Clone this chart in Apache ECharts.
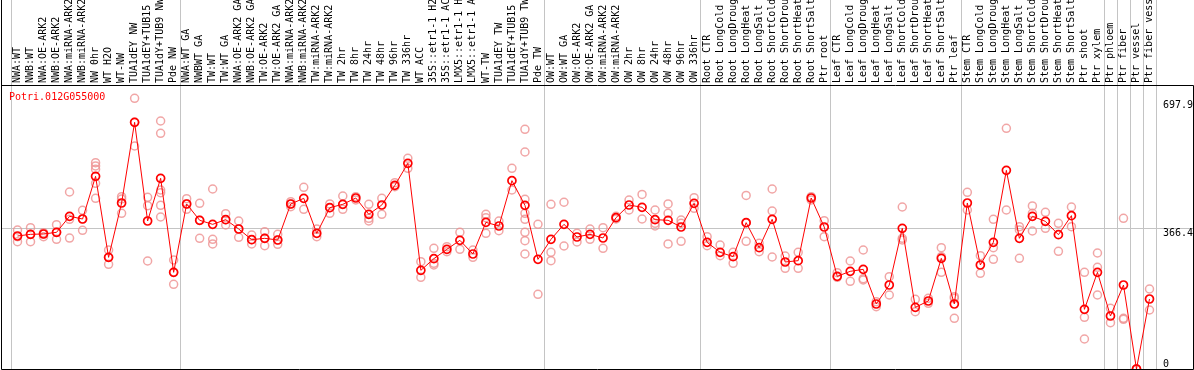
<!DOCTYPE html>
<html>
<head>
<meta charset="utf-8">
<script src="https://cdn.jsdelivr.net/npm/echarts@6/dist/echarts.min.js"></script>
<style>
html,body{margin:0;padding:0;background:#fff;}
#c{width:1194px;height:370px;}
</style>
</head>
<body>
<div id="c"></div>
<script>
const geneTitle = 'Potri.012G055000';

const categories = [
  'NWA:WT','NWB:WT','NWA:OE-ARK2','NWB:OE-ARK2','NWA:miRNA-ARK2','NWB:miRNA-ARK2','NW 0hr','WT H2O','WT-NW','TUA1dEY NW','TUA1dEY+TUB15 NW','TUA1dY+TUB9 NW','Pde NW',
  'NWA:WT GA','NWBWT GA','TW:WT','TW:WT GA','NWA:OE-ARK2 GA','NWB:OE-ARK2 GA','TW:OE-ARK2','TW:OE-ARK2 GA','NWA:miRNA-ARK2','NWB:miRNA-ARK2','TW:miRNA-ARK2','TW:miRNA-ARK2',
  'TW 2hr','TW 8hr','TW 24hr','TW 48hr','TW 96hr','TW 336hr','WT ACC','35S::etr1-1 H2O','35S::etr1-1 ACC','LMX5::etr1-1 H2O','LMX5::etr1-1 ACC','WT-TW','TUA1dEY TW','TUA1dEY+TUB15 TW','TUA1dY+TUB9 TW','Pde TW',
  'OW:WT','OW:WT GA','OW:OE-ARK2','OW:OE-ARK2 GA','OW:miRNA-ARK2','OW:miRNA-ARK2','OW 2hr','OW 8hr','OW 24hr','OW 48hr','OW 96hr','OW 336hr',
  'Root CTR','Root LongCold','Root LongDrought','Root LongHeat','Root LongSalt','Root ShortCold','Root ShortDrought','Root ShortHeat','Root ShortSalt','Ptr root',
  'Leaf CTR','Leaf LongCold','Leaf LongDrought','Leaf LongHeat','Leaf LongSalt','Leaf ShortCold','Leaf ShortDrought','Leaf ShortHeat','Leaf ShortSalt','Ptr leaf',
  'Stem CTR','Stem LongCold','Stem LongDrought','Stem LongHeat','Stem LongSalt','Stem ShortCold','Stem ShortDrought','Stem ShortHeat','Stem ShortSalt','Ptr shoot',
  'Ptr xylem','Ptr phloem','Ptr fiber','Ptr vessel','Ptr fiber vessel'
];

const means = [
  346.2, 350.5, 351.4, 355.7, 397.4, 390.4, 501.5, 290.6, 432.1, 642.0, 385.2, 496.3, 251.6,
  429.5, 387.0, 376.5, 388.7, 364.4, 336.6, 340.1, 335.8, 429.5, 444.2, 353.1, 419.9, 428.6, 445.1, 402.6, 426.9, 478.0, 535.3, 256.8, 287.2, 311.5, 334.9, 299.3, 381.7, 372.2, 490.2, 426.0, 285.4,
  337.5, 376.5, 343.6, 350.5, 341.0, 393.9, 426.9, 420.8, 388.7, 387.0, 369.6, 431.2,
  329.7, 303.7, 292.4, 380.9, 315.8, 389.6, 278.5, 282.0, 445.1, 369.6,
  241.2, 254.2, 259.4, 169.2, 218.6, 366.1, 160.5, 177.0, 288.0, 169.2,
  432.1, 270.7, 329.7, 517.1, 340.1, 397.4, 384.3, 349.6, 399.1, 155.3,
  251.6, 137.9, 218.6, 0, 182.2
];

const replicates = [
  [361.8, 344.5, 331.4], [367.9, 350.5, 331.4], [354.8, 351.4, 344.5], [375.7, 355.7, 337.5],
  [460.7, 389.6, 340.9], [413.0, 390.4, 360.9], [537.0, 528.4, 519.7, 483.3, 444.2], [309.7, 290.6, 272.4],
  [448.6, 442.5, 405.2], [704.5, 642.0, 580.4], [446.8, 425.1, 281.1], [645.5, 613.4, 465.9, 459.0, 426.0, 395.6],
  [283.7, 251.6, 220.4],
  [443.4, 429.5, 415.6], [431.2, 387.0, 340.1], [468.5, 337.5, 325.4], [404.3, 388.7, 374.8],
  [385.2, 364.4, 342.7], [348.8, 336.6, 325.4], [357.5, 340.1, 321.0], [350.5, 335.8, 324.5],
  [435.5, 429.5, 422.5], [472.8, 415.6], [364.4, 344.5], [429.5, 419.9, 405.2],
  [450.3, 428.6, 415.6], [448.6, 439.9], [428.6, 392.2, 385.2], [444.2, 402.6],
  [485.0, 474.6], [548.3, 522.3], [279.4, 238.6], [314.1, 275.0, 270.7],
  [318.4, 305.4], [355.7, 311.5], [309.7, 290.6], [402.6, 393.9, 353.1],
  [385.2, 360.0], [522.3, 465.9], [623.8, 564.8, 441.6, 405.2, 389.6, 355.7, 334.0, 299.3], [376.5, 194.3],
  [428.6, 303.7, 282.0], [434.0, 320.1], [353.1, 330.6], [364.4, 337.5],
  [367.9, 314.1], [397.4, 390.4], [439.9, 413.8], [454.4, 390.4],
  [413.8, 379.1, 372.2], [429.5, 405.2, 325.4], [387.8, 379.1, 332.3], [445.9, 418.2],
  [344.5, 321.0], [322.7, 295.0], [303.7, 275.0], [451.7, 380.9, 332.3],
  [327.1, 305.4], [468.5, 411.2, 291.5], [294.1, 262.0], [303.7, 262.0],
  [448.6, 439.9], [386.1, 344.5],
  [250.7, 238.6], [281.1, 228.2], [309.7, 235.1, 231.6], [175.3, 162.2],
  [240.3, 192.6], [421.6, 340.1, 335.8], [181.3, 149.2], [183.9, 170.9],
  [315.8, 292.4, 251.6], [188.3, 183.9, 131.9],
  [459.8, 413.8], [295.0, 249.0], [389.6, 315.8, 285.4], [626.4, 413.8],
  [370.5, 361.8, 288.0], [424.3, 405.2, 359.2], [407.8, 366.1], [379.1, 306.3],
  [421.6, 370.5], [251.6, 134.5, 78.1],
  [301.9, 264.6, 192.6], [157.9, 120.6], [392.2, 131.9, 129.3], [0, 0], [208.2, 153.6]
];

const yTickValues = [697.9, 366.4];
const yZeroTick = [0];
const refValue = 366.4;
const groupStarts = [0, 13, 41, 53, 63, 73, 84, 85, 86, 87];
const yMax = 960.4;

const FONT = 'DejaVu Sans Mono';
const repData = [];
replicates.forEach((arr, i) => arr.forEach(v => repData.push([i, v])));

const gridBox = {left: 11, right: 38, top: 0, bottom: 1, outerBoundsMode: 'none', containLabel: false};

const chart = echarts.init(document.getElementById('c'), null, {renderer: 'canvas'});
const option = {
  animation: false,
  backgroundColor: '#ffffff',
  title: {
    text: geneTitle, left: 9, top: 92, padding: 0,
    textStyle: {color: '#ff0000', fontSize: 10, fontFamily: FONT, fontWeight: 'normal'}
  },
  grid: [Object.assign({}, gridBox), Object.assign({}, gridBox)],
  xAxis: [{
    type: 'category', data: categories, position: 'top', offset: -85, boundaryGap: true,
    axisLine: {show: false}, axisTick: {show: false},
    axisLabel: {interval: 0, rotate: 90, margin: 2, fontSize: 10, fontFamily: FONT, color: '#000'},
    splitLine: {show: true, interval: (idx) => groupStarts.indexOf(idx) >= 0, lineStyle: {color: '#c4c4c4', width: 1}}
  }, {
    gridIndex: 1, type: 'value', show: false, min: 0, max: 1
  }],
  yAxis: [{
    type: 'value', position: 'right', min: 0, max: yMax,
    axisLine: {show: false}, axisTick: {show: false}, splitLine: {show: false},
    axisLabel: {customValues: yTickValues, verticalAlign: 'top', margin: 7, fontSize: 10, fontFamily: FONT, color: '#000', formatter: v => String(v)}
  }, {
    gridIndex: 1, type: 'value', position: 'right', min: 0, max: yMax,
    axisLine: {show: false}, axisTick: {show: false}, splitLine: {show: false},
    axisLabel: {customValues: yZeroTick, verticalAlign: 'bottom', margin: 7, fontSize: 10, fontFamily: FONT, color: '#000', formatter: v => String(v)}
  }],
  series: [{
    type: 'scatter', xAxisIndex: 0, yAxisIndex: 0, data: repData,
    symbol: 'circle', symbolSize: 8, silent: true, z: 2,
    itemStyle: {color: 'rgba(0,0,0,0)', borderColor: '#ee9090', borderWidth: 1.5}
  }, {
    type: 'line', xAxisIndex: 0, yAxisIndex: 0, data: means,
    symbol: 'circle', symbolSize: 8, showSymbol: true, showAllSymbol: true, silent: true, z: 3,
    lineStyle: {color: '#ff0000', width: 1},
    itemStyle: {color: 'rgba(0,0,0,0)', borderColor: '#ff0000', borderWidth: 1.7}
  }]
};
chart.setOption(option);

const yRef = Math.round(chart.convertToPixel({yAxisIndex: 0}, refValue)) + 0.5;
chart.setOption({
  graphic: [
    {type: 'line', z: 0, silent: true, shape: {x1: 1, y1: yRef, x2: 1193, y2: yRef}, style: {stroke: '#c4c4c4', lineWidth: 1}},
    {type: 'rect', z: 100, silent: true, shape: {x: 1.5, y: 85.5, width: 1192, height: 284}, style: {fill: null, stroke: '#000', lineWidth: 1}},
    {type: 'line', z: 100, silent: true, shape: {x1: 1.5, y1: 0, x2: 1.5, y2: 86}, style: {stroke: '#000', lineWidth: 1}}
  ]
});
</script>
</body>
</html>
